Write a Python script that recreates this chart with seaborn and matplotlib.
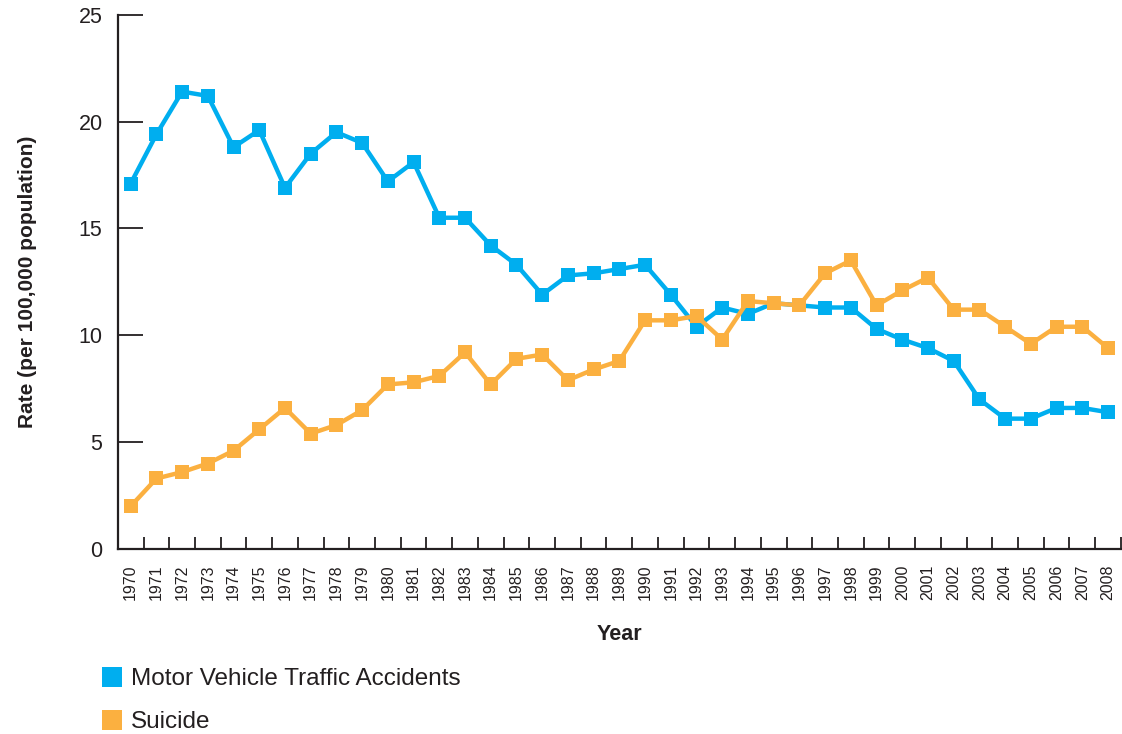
import pandas as pd
import numpy as np
import matplotlib
matplotlib.use("Agg")
import matplotlib.pyplot as plt
from matplotlib.lines import Line2D
from matplotlib.ticker import MultipleLocator, FixedLocator
import seaborn as sns

years = list(range(1970, 2009))
motor_vehicle = [17.1, 19.4, 21.4, 21.2, 18.8, 19.6, 16.9, 18.5, 19.5, 19.0,
                 17.2, 18.1, 15.5, 15.5, 14.2, 13.3, 11.9, 12.8, 12.9, 13.1,
                 13.3, 11.9, 10.4, 11.3, 11.0, 11.5, 11.4, 11.3, 11.3, 10.3,
                 9.8, 9.4, 8.8, 7.0, 6.1, 6.1, 6.6, 6.6, 6.4]
suicide = [2.0, 3.3, 3.6, 4.0, 4.6, 5.6, 6.6, 5.4, 5.8, 6.5,
           7.7, 7.8, 8.1, 9.2, 7.7, 8.9, 9.1, 7.9, 8.4, 8.8,
           10.7, 10.7, 10.9, 9.8, 11.6, 11.5, 11.4, 12.9, 13.5, 11.4,
           12.1, 12.7, 11.2, 11.2, 10.4, 9.6, 10.4, 10.4, 9.4]
series_names = ["Motor Vehicle Traffic Accidents", "Suicide"]
colors = ["#00AEEF", "#FBB040"]

df = pd.DataFrame({
    "Year": years * 2,
    "Rate": motor_vehicle + suicide,
    "Cause": [series_names[0]] * len(years) + [series_names[1]] * len(years),
})

sns.set_style("white")
plt.rcParams["font.family"] = ["Liberation Sans", "DejaVu Sans"]
ink = "#231f20"

fig = plt.figure(figsize=(11.22, 7.34), dpi=100)
ax = fig.add_axes([0.105, 0.252, 0.894, 0.728])

sns.lineplot(data=df, x="Year", y="Rate", hue="Cause", palette=colors,
             style="Cause", markers=["s", "s"], dashes=False, linewidth=3.2,
             markersize=10, markeredgewidth=0, legend=False, ax=ax)

ax.set_xlim(1969.5, 2008.5)
ax.set_ylim(0, 25)
sns.despine(ax=ax)
for s in ["left", "bottom"]:
    ax.spines[s].set_color(ink)
    ax.spines[s].set_linewidth(1.6)

ax.yaxis.set_major_locator(MultipleLocator(5))
ax.tick_params(axis="y", direction="in", length=18, width=1.3, color=ink,
               labelsize=15.5, labelcolor=ink, pad=11, left=True)
ax.set_xticks(years)
ax.set_xticklabels([str(y) for y in years], rotation=90)
ax.tick_params(axis="x", which="major", length=0, labelsize=11.5,
               labelcolor=ink, pad=11)
ax.xaxis.set_minor_locator(FixedLocator([y + 0.5 for y in years]))
ax.tick_params(axis="x", which="minor", direction="in", length=9, width=1.3,
               color=ink, bottom=True)

ax.set_xlabel("Year", fontsize=15.5, fontweight="bold", color=ink, labelpad=17)
ax.set_ylabel("Rate (per 100,000 population)", fontsize=15,
              fontweight="bold", color=ink, labelpad=30)

handles = [Line2D([], [], marker="s", linestyle="none", markersize=14,
                  markerfacecolor=c, markeredgewidth=0) for c in colors]
fig.legend(handles, series_names, loc="upper left", bbox_to_anchor=(0.08, 0.106),
           frameon=False, fontsize=17.5, labelspacing=0.85, handletextpad=0.4,
           borderpad=0, handlelength=0.8, labelcolor=ink)

fig.savefig("out.png", dpi=100)
